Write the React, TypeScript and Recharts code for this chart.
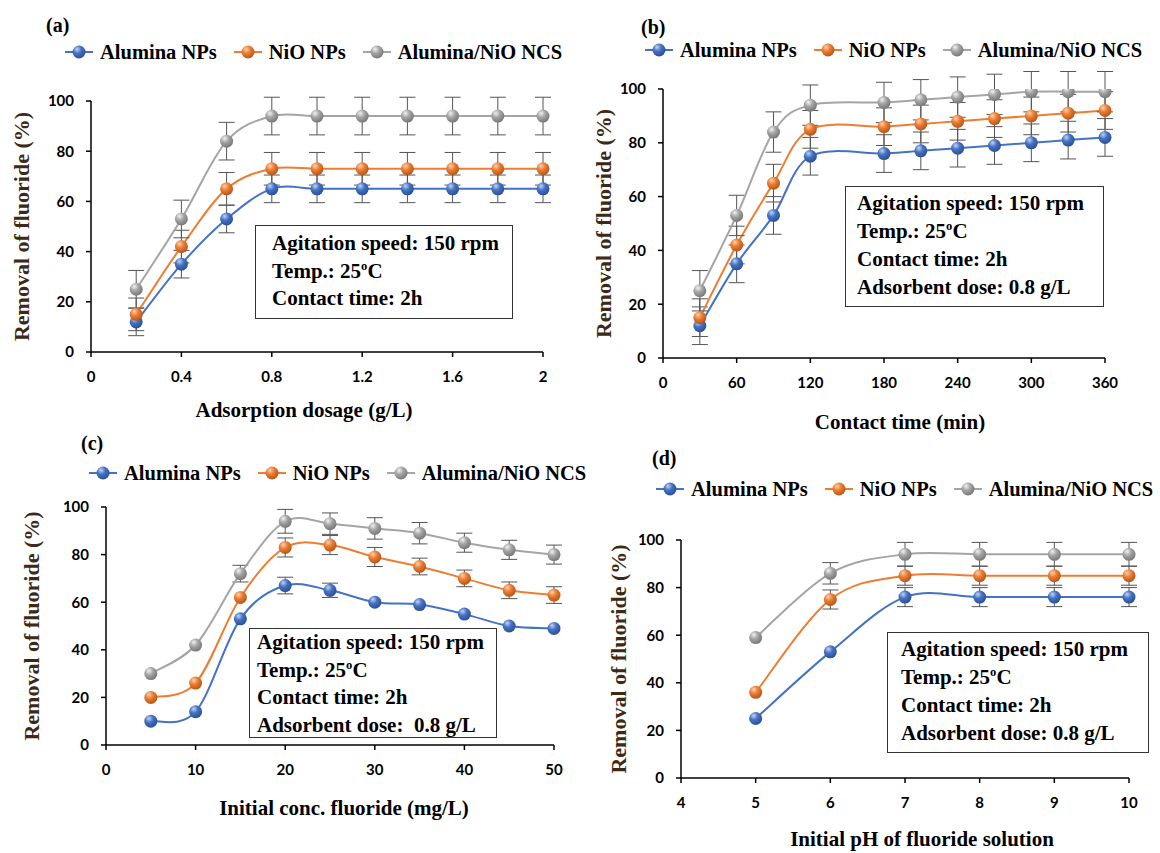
import React from "react";
import { LineChart, Line, XAxis, YAxis, ErrorBar } from "recharts";

// series names shared by all four panels
const seriesNames = ["Alumina NPs", "NiO NPs", "Alumina/NiO NCS"];

// (a) adsorbent dosage
const dosage = [0.2, 0.4, 0.6, 0.8, 1.0, 1.2, 1.4, 1.6, 1.8, 2.0];
const dosageAlumina = [12, 35, 53, 65, 65, 65, 65, 65, 65, 65];
const dosageNiO = [15, 42, 65, 73, 73, 73, 73, 73, 73, 73];
const dosageNCS = [25, 53, 84, 94, 94, 94, 94, 94, 94, 94];
const dosageErrAlumina = [5.5, 5.5, 5.5, 5.5, 5.5, 5.5, 5.5, 5.5, 5.5, 5.5];
const dosageErrNiO = [6.5, 6.5, 6.5, 6.5, 6.5, 6.5, 6.5, 6.5, 6.5, 6.5];
const dosageErrNCS = [7.5, 7.5, 7.5, 7.5, 7.5, 7.5, 7.5, 7.5, 7.5, 7.5];
const dosageTicks = [0, 0.4, 0.8, 1.2, 1.6, 2];

// (b) contact time
const time = [30, 60, 90, 120, 180, 210, 240, 270, 300, 330, 360];
const timeAlumina = [12, 35, 53, 75, 76, 77, 78, 79, 80, 81, 82];
const timeNiO = [15, 42, 65, 85, 86, 87, 88, 89, 90, 91, 92];
const timeNCS = [25, 53, 84, 94, 95, 96, 97, 98, 99, 99, 99];
const timeErrAlumina = [7, 7, 7, 7, 7, 7, 7, 7, 7, 7, 7];
const timeErrNiO = [7, 7, 7, 7, 7, 7, 7, 7, 7, 7, 7];
const timeErrNCS = [7.5, 7.5, 7.5, 7.5, 7.5, 7.5, 7.5, 7.5, 7.5, 7.5, 7.5];
const timeTicks = [0, 60, 120, 180, 240, 300, 360];

// (c) initial fluoride concentration
const conc = [5, 10, 15, 20, 25, 30, 35, 40, 45, 50];
const concAlumina = [10, 14, 53, 67, 65, 60, 59, 55, 50, 49];
const concNiO = [20, 26, 62, 83, 84, 79, 75, 70, 65, 63];
const concNCS = [30, 42, 72, 94, 93, 91, 89, 85, 82, 80];
const concErrAlumina = [0, 0, 0, 3.5, 3, 0, 0, 0, 0, 0];
const concErrNiO = [0, 0, 0, 4, 4, 4, 3.5, 3.5, 3.5, 3.5];
const concErrNCS = [0, 0, 3.5, 5, 4.5, 4.5, 4.5, 4, 4, 4];
const concTicks = [0, 10, 20, 30, 40, 50];

// (d) initial pH
const ph = [5, 6, 7, 8, 9, 10];
const phAlumina = [25, 53, 76, 76, 76, 76];
const phNiO = [36, 75, 85, 85, 85, 85];
const phNCS = [59, 86, 94, 94, 94, 94];
const phErrAlumina = [0, 0, 4, 4, 4, 4];
const phErrNiO = [0, 4, 4, 4, 4, 4];
const phErrNCS = [0, 4.5, 5, 5, 5, 5];
const phTicks = [4, 5, 6, 7, 8, 9, 10];

const yTicks = [0, 20, 40, 60, 80, 100];

const SERIF = '"Liberation Serif", "Times New Roman", serif';
const SANS = 'Lato, "Liberation Sans", sans-serif';

const styles = [
  { key: "a", color: "#4472C4", light: "#c3d3f2", dark: "#2b4f92" },
  { key: "b", color: "#ED7D31", light: "#fbd2b3", dark: "#b0561b" },
  { key: "c", color: "#A5A5A5", light: "#f2f2f2", dark: "#767676" },
];

// Excel-like smoothed line (Catmull-Rom through the points)
const excelCurve = (context: any) => {
  let pts: number[][] = [];
  return {
    areaStart() {},
    areaEnd() {},
    lineStart() {
      pts = [];
    },
    lineEnd() {
      if (!pts.length) return;
      context.moveTo(pts[0][0], pts[0][1]);
      for (let i = 0; i < pts.length - 1; i++) {
        const p0 = pts[Math.max(i - 1, 0)];
        const p1 = pts[i];
        const p2 = pts[i + 1];
        const p3 = pts[Math.min(i + 2, pts.length - 1)];
        context.bezierCurveTo(
          p1[0] + (p2[0] - p0[0]) / 6,
          p1[1] + (p2[1] - p0[1]) / 6,
          p2[0] - (p3[0] - p1[0]) / 6,
          p2[1] - (p3[1] - p1[1]) / 6,
          p2[0],
          p2[1]
        );
      }
    },
    point(x: number, y: number) {
      pts.push([+x, +y]);
    },
  };
};

const XTitle = ({ viewBox, text, dx, dy }: any) => {
  const cx = viewBox.x + viewBox.width / 2 + dx;
  return (
    <text x={cx} y={viewBox.y + dy} textAnchor="middle" dominantBaseline="central"
      fontFamily={SERIF} fontWeight={700} fontSize={21} fill="#000">
      {text}
    </text>
  );
};

const YTitle = ({ viewBox, text, tx }: any) => {
  const cy = viewBox.y + viewBox.height / 2;
  return (
    <text x={tx} y={cy} transform={`rotate(-90 ${tx} ${cy})`} textAnchor="middle" dominantBaseline="central"
      fontFamily={SERIF} fontWeight={700} fontSize={22} fill="#3d2914">
      {text}
    </text>
  );
};

const LegendRow = ({ left, cy }: { left: number; cy: number }) => (
  <div style={{ position: "absolute", left, top: cy - 14, height: 28, display: "flex", alignItems: "center", gap: 17, whiteSpace: "nowrap" }}>
    {styles.map((s, i) => (
      <div key={s.key} style={{ display: "flex", alignItems: "center", gap: 7 }}>
        <svg width={28} height={16}>
          <line x1={0} y1={8} x2={28} y2={8} stroke={s.color} strokeWidth={2} />
          <circle cx={14} cy={8} r={6.5} fill={`url(#ball-${s.key})`} />
        </svg>
        <span style={{ fontFamily: SERIF, fontWeight: 700, fontSize: 20.5, color: "#000" }}>{seriesNames[i]}</span>
      </div>
    ))}
  </div>
);

const InfoBox = ({ box, lines }: any) => (
  <div style={{
    position: "absolute", left: box.left, top: box.top, width: box.w, height: box.h, boxSizing: "border-box",
    border: "1.5px solid #333", background: "#fff", paddingTop: box.padTop, paddingLeft: box.padLeft,
    fontFamily: SERIF, fontWeight: 700, fontSize: 21, lineHeight: `${box.lineH}px`, color: "#000", whiteSpace: "pre",
  }}>
    {lines.map((l: string, i: number) => (
      <div key={i}>
        {l.includes("25oC") ? (
          <>
            {l.split("25oC")[0]}25<sup style={{ fontSize: "0.6em", lineHeight: 0 }}>o</sup>C
          </>
        ) : l}
      </div>
    ))}
  </div>
);

const baseLines = ["Agitation speed: 150 rpm", "Temp.: 25oC", "Contact time: 2h"];

const panels = [
  {
    tag: "(a)", tagX: 46, tagY: 25, left: 0, top: 0, w: 580, h: 430,
    plotTop: 101, yAxisW: 91, right: 37, xAxisH: 78, xDomain: [0, 2], xTicks: dosageTicks,
    xTitle: "Adsorption dosage (g/L)", xdx: -13, xdy: 58, ytx: 21, legendX: 65, legendY: 52,
    x: dosage, ys: [dosageAlumina, dosageNiO, dosageNCS], errs: [dosageErrAlumina, dosageErrNiO, dosageErrNCS],
    box: { left: 255, top: 225, w: 258, h: 94, padTop: 4, padLeft: 16, lineH: 27.5 },
    lines: baseLines,
  },
  {
    tag: "(b)", tagX: 61, tagY: 27, left: 580, top: 0, w: 580, h: 445,
    plotTop: 89, yAxisW: 83, right: 55, xAxisH: 87, xDomain: [0, 360], xTicks: timeTicks,
    xTitle: "Contact time (min)", xdx: 16, xdy: 64, ytx: 23.5, legendX: 65, legendY: 50,
    x: time, ys: [timeAlumina, timeNiO, timeNCS], errs: [timeErrAlumina, timeErrNiO, timeErrNCS],
    box: { left: 265, top: 186, w: 259, h: 121, padTop: 2, padLeft: 11, lineH: 28 },
    lines: [...baseLines, "Adsorbent dose: 0.8 g/L"],
  },
  {
    tag: "(c)", tagX: 81, tagY: 13, left: 0, top: 430, w: 580, h: 423,
    plotTop: 77, yAxisW: 106, right: 26, xAxisH: 108, xDomain: [0, 50], xTicks: concTicks,
    xTitle: "Initial conc. fluoride (mg/L)", xdx: 14, xdy: 63, ytx: 31.5, legendX: 89, legendY: 43,
    x: conc, ys: [concAlumina, concNiO, concNCS], errs: [concErrAlumina, concErrNiO, concErrNCS],
    box: { left: 249, top: 198, w: 248, h: 110, padTop: 0, padLeft: 7, lineH: 27.5 },
    lines: [...baseLines, "Adsorbent dose:  0.8 g/L"],
  },
  {
    tag: "(d)", tagX: 72, tagY: 28, left: 580, top: 430, w: 580, h: 423,
    plotTop: 110, yAxisW: 101, right: 31, xAxisH: 75, xDomain: [4, 10], xTicks: phTicks,
    xTitle: "Initial pH of fluoride solution", xdx: 17, xdy: 61, ytx: 38, legendX: 76, legendY: 59,
    x: ph, ys: [phAlumina, phNiO, phNCS], errs: [phErrAlumina, phErrNiO, phErrNCS],
    box: { left: 307, top: 202, w: 262, h: 121, padTop: 2, padLeft: 13, lineH: 28 },
    lines: [...baseLines, "Adsorbent dose: 0.8 g/L"],
  },
];

const tickStyle = { fontFamily: SANS, fontWeight: 700, fontSize: 15, fill: "#000" };
const axisStroke = { stroke: "#000", strokeWidth: 1.5 };

function Panel({ p }: { p: (typeof panels)[number] }) {
  const data = p.x.map((x, i) => ({
    x,
    a: p.ys[0][i], b: p.ys[1][i], c: p.ys[2][i],
    ea: p.errs[0][i], eb: p.errs[1][i], ec: p.errs[2][i],
  }));
  return (
    <div style={{ position: "absolute", left: p.left, top: p.top, width: p.w, height: p.h }}>
      <LineChart width={p.w} height={p.h} data={data} margin={{ top: p.plotTop, right: p.right, left: 0, bottom: 0 }}>
        <XAxis type="number" dataKey="x" domain={p.xDomain} ticks={p.xTicks} interval={0} height={p.xAxisH}
          tick={tickStyle} tickSize={5} tickMargin={14} axisLine={axisStroke} tickLine={axisStroke}
          label={<XTitle text={p.xTitle} dx={p.xdx} dy={p.xdy} />} />
        <YAxis type="number" domain={[0, 100]} allowDataOverflow ticks={yTicks} interval={0} width={p.yAxisW}
          tick={tickStyle} tickSize={5} tickMargin={12} axisLine={axisStroke} tickLine={axisStroke}
          label={<YTitle text="Removal of fluoride (%)" tx={p.ytx} />} />
        {styles.map((s) => (
          <Line key={s.key} dataKey={s.key} type={excelCurve as any} stroke={s.color} strokeWidth={2}
            isAnimationActive={false} activeDot={false}
            dot={(d: any) => (
              <circle key={`${s.key}-${d.index}`} cx={d.cx} cy={d.cy} r={6.5} fill={`url(#ball-${s.key})`} />
            )}>
            <ErrorBar dataKey={`e${s.key}`} direction="y" width={8} stroke="#555" strokeWidth={1} />
          </Line>
        ))}
      </LineChart>
      <div style={{ position: "absolute", left: p.tagX, top: p.tagY - 12, fontFamily: SERIF, fontWeight: 700, fontSize: 20, lineHeight: "24px", color: "#000" }}>
        {p.tag}
      </div>
      <LegendRow left={p.legendX} cy={p.legendY} />
      <InfoBox box={p.box} lines={p.lines} />
    </div>
  );
}

export default function App() {
  return (
    <div style={{ position: "absolute", left: 0, top: 0, width: 1160, height: 853, background: "#fff", overflow: "hidden" }}>
      <svg width={0} height={0} style={{ position: "absolute" }}>
        <defs>
          {styles.map((s) => (
            <radialGradient key={s.key} id={`ball-${s.key}`} cx="38%" cy="32%" r="70%" fx="35%" fy="28%">
              <stop offset="0%" stopColor={s.light} />
              <stop offset="45%" stopColor={s.color} />
              <stop offset="100%" stopColor={s.dark} />
            </radialGradient>
          ))}
        </defs>
      </svg>
      {panels.map((p) => (
        <Panel key={p.tag} p={p} />
      ))}
    </div>
  );
}
